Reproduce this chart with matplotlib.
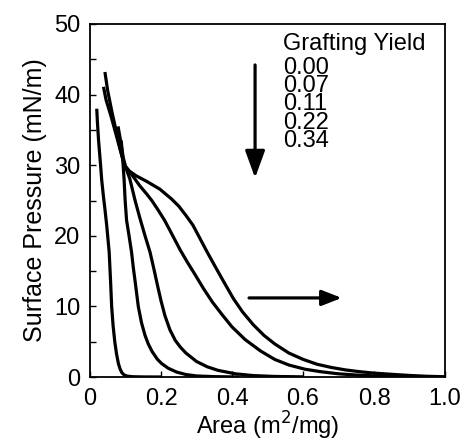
import matplotlib
matplotlib.use("Agg")
import matplotlib.pyplot as plt
from matplotlib.ticker import MultipleLocator, FixedLocator

plt.rcParams['font.family'] = ['Liberation Sans', 'DejaVu Sans']

# grafting yields (top to bottom in the legend)
yields = ["0.00", "0.07", "0.11", "0.22", "0.34"]

# isotherms: area (m2/mg), surface pressure (mN/m)
area_000 = [0.019, 0.021, 0.024, 0.029, 0.033, 0.038, 0.042, 0.047, 0.054,
            0.058, 0.061, 0.065, 0.070, 0.075, 0.080, 0.085, 0.090, 0.096,
            0.105, 0.12, 0.15, 0.20]
pres_000 = [38.0, 36.0, 33.6, 30.5, 27.9, 25.5, 23.8, 21.5, 17.7,
            13.5, 10.0, 7.3, 4.9, 3.2, 1.9, 1.1, 0.6, 0.3,
            0.12, 0.04, 0.01, 0.0]

area_007 = [0.088, 0.092, 0.096, 0.099, 0.103, 0.110, 0.117, 0.122, 0.128,
            0.136, 0.145, 0.155, 0.164, 0.175, 0.190, 0.202, 0.220, 0.244,
            0.27, 0.30, 0.35, 0.42]
pres_007 = [33.5, 31.0, 28.0, 25.0, 22.2, 20.0, 17.7, 15.5, 13.2,
            10.0, 7.7, 5.9, 4.7, 3.6, 2.5, 1.9, 1.25, 0.7,
            0.35, 0.15, 0.05, 0.0]

area_011 = [0.079, 0.086, 0.094, 0.102, 0.112, 0.127, 0.140, 0.155, 0.169,
            0.180, 0.190, 0.200, 0.211, 0.225, 0.240, 0.255, 0.27, 0.30,
            0.33, 0.36, 0.41, 0.46, 0.52, 0.60]
pres_011 = [35.5, 33.5, 31.0, 29.5, 28.1, 25.0, 22.6, 20.0, 17.7,
            15.3, 13.0, 10.8, 8.7, 6.7, 5.2, 4.2, 3.4, 2.2,
            1.45, 0.95, 0.45, 0.2, 0.08, 0.02]

area_022 = [0.038, 0.045, 0.060, 0.072, 0.085, 0.097, 0.108, 0.120, 0.140,
            0.160, 0.174, 0.190, 0.210, 0.230, 0.254, 0.275, 0.296, 0.320,
            0.345, 0.371, 0.400, 0.437, 0.48, 0.52, 0.56, 0.606, 0.65,
            0.70, 0.75, 0.80, 0.85, 0.90]
pres_022 = [41.1, 39.3, 36.8, 34.6, 32.2, 30.0, 29.3, 28.5, 27.1,
            25.9, 25.0, 23.8, 22.2, 20.3, 18.0, 16.2, 14.5, 12.5,
            10.6, 8.9, 7.1, 5.3, 3.7, 2.5, 1.7, 1.1, 0.75,
            0.45, 0.28, 0.16, 0.08, 0.03]

area_034 = [0.042, 0.050, 0.062, 0.073, 0.085, 0.097, 0.110, 0.130, 0.160,
            0.197, 0.230, 0.250, 0.270, 0.290, 0.310, 0.330, 0.352, 0.380,
            0.404, 0.43, 0.46, 0.49, 0.52, 0.56, 0.60, 0.64, 0.68,
            0.72, 0.76, 0.80, 0.85, 0.90, 0.95, 1.0]
pres_034 = [43.2, 40.5, 37.5, 35.0, 32.3, 30.0, 29.2, 28.5, 27.7,
            26.6, 25.2, 24.2, 22.9, 21.5, 19.6, 17.7, 15.7, 13.2,
            11.1, 9.2, 7.4, 5.9, 4.7, 3.4, 2.5, 1.8, 1.35,
            1.0, 0.75, 0.55, 0.38, 0.22, 0.1, 0.04]

areas = [area_000, area_007, area_011, area_022, area_034]
pressures = [pres_000, pres_007, pres_011, pres_022, pres_034]

fig = plt.figure(figsize=(4.65, 4.45), dpi=100)
ax = fig.add_axes([90/465, 1-377/445, 355/465, 353/445])

for a, p in zip(areas, pressures):
    ax.plot(a, p, color='black', lw=2.3, solid_capstyle='butt',
            solid_joinstyle='round')

ax.set_xlim(0, 1.0)
ax.set_ylim(0, 50)
ax.xaxis.set_major_locator(FixedLocator([0, 0.2, 0.4, 0.6, 0.8, 1.0]))
ax.set_xticklabels(['0', '0.2', '0.4', '0.6', '0.8', '1.0'])
ax.yaxis.set_major_locator(MultipleLocator(10))
ax.yaxis.set_minor_locator(MultipleLocator(5))

ax.tick_params(which='both', direction='in', top=False, right=False,
               width=1.0, length=4, labelsize=17)
ax.tick_params(axis='x', pad=8)
ax.tick_params(axis='y', pad=7)
for s in ax.spines.values():
    s.set_linewidth(1.3)

ax.set_xlabel('Area (m$^2$/mg)', fontsize=17, labelpad=0)
ax.set_ylabel('Surface Pressure (mN/m)', fontsize=18, labelpad=5)

# legend-like text block
ax.text(0.544, 46.3, 'Grafting Yield', fontsize=17, va='baseline', ha='left')
ax.text(0.544, 32.6, '\n'.join(yields), fontsize=17, va='baseline',
        ha='left', linespacing=0.78, multialignment='left')

# arrows
ax.annotate('', xy=(0.465, 28.2), xytext=(0.465, 44.2),
            arrowprops=dict(arrowstyle='-|>,head_length=1.65,head_width=0.6',
                            lw=2.3, color='black', shrinkA=0, shrinkB=0))
ax.annotate('', xy=(0.709, 11.2), xytext=(0.448, 11.2),
            arrowprops=dict(arrowstyle='-|>,head_length=1.2,head_width=0.47',
                            lw=2.3, color='black', shrinkA=0, shrinkB=0))

fig.savefig('out.png', dpi=100)
